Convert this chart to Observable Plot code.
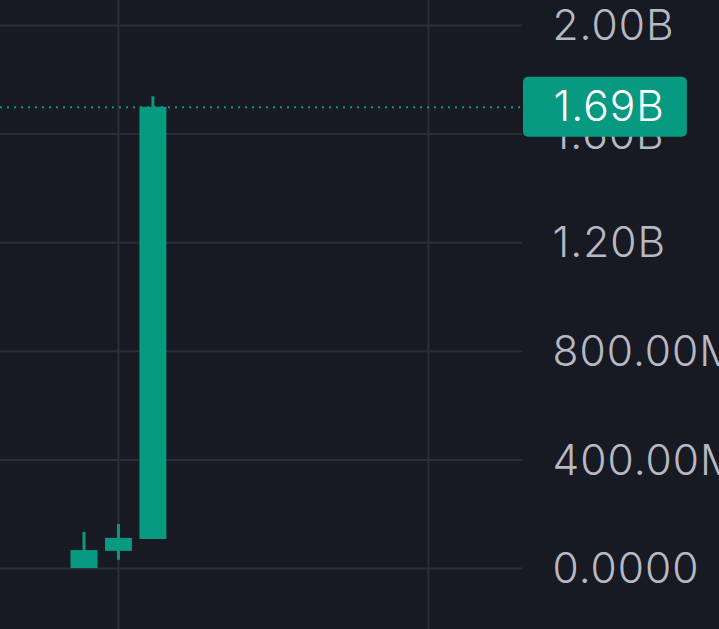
<!DOCTYPE html>
<html>
<head>
<meta charset="utf-8">
<script src="https://cdn.jsdelivr.net/npm/d3@7"></script>
<script src="https://cdn.jsdelivr.net/npm/@observablehq/plot@0.6"></script>
<style>
  html, body { margin: 0; padding: 0; background: #181a23; overflow: hidden; }
  #chart svg { display: block; overflow: hidden; }
  #chart text { letter-spacing: 1px; }
</style>
</head>
<body>
<div id="chart"></div>
<script>
// Candle data (index, open, high, low, close)
const idx   = [0, 1, 2];
const open  = [0, 63e6, 107e6];
const high  = [133e6, 162e6, 1.738e9];
const low   = [0, 30e6, 107e6];
const close = [66e6, 111e6, 1.699e9];

// Axis ticks
const yTicks = [0, 400e6, 800e6, 1.2e9, 1.6e9, 2.0e9];
const yTickLabels = ["0.0000", "400.00M", "800.00M", "1.20B", "1.60B", "2.00B"];
const xGrid = [1, 10];
const lastLabel = "1.69B";

const candles = idx.map((i, k) => ({i, open: open[k], high: high[k], low: low[k], close: close[k]}));
const ticks = yTicks.map((v, k) => ({v, label: yTickLabels[k]}));
const last = candles[candles.length - 1];

const green = "#089981";
const grid = "#2a2d38";
const fontFamily = "Inter, 'Noto Sans', sans-serif";
const fs = 42.5;

const plot = Plot.plot({
  width: 719,
  height: 629,
  marginLeft: 0,
  marginRight: 197,
  marginTop: 0,
  marginBottom: 0,
  style: {background: "#181a23", fontFamily},
  x: {type: "linear", domain: [0, 10], range: [83.5, 428], axis: null},
  y: {domain: [0, 2e9], range: [568, 25], axis: null},
  marks: [
    Plot.ruleY(ticks, {y: "v", stroke: grid, strokeWidth: 2}),
    Plot.ruleX(xGrid, {stroke: grid, strokeWidth: 2}),
    Plot.ruleY([last.close], {stroke: green, strokeWidth: 2, strokeDasharray: "2,5"}),
    Plot.ruleX(candles, {x: "i", y1: "low", y2: "high", stroke: green, strokeWidth: 3}),
    Plot.ruleX(candles, {x: "i", y1: "open", y2: "close", stroke: green, strokeWidth: 27}),
    Plot.text(ticks, {y: "v", text: "label", frameAnchor: "right", dx: 30, dy: 1, textAnchor: "start",
      fill: "#b6b9c2", fontSize: fs, fontWeight: 300}),
    Plot.text([last], {y: "close", text: () => lastLabel, frameAnchor: "right", dx: 31, textAnchor: "start",
      fill: "#ffffff", fontSize: fs, fontWeight: 300})
  ]
});

document.getElementById("chart").appendChild(plot);

// badge behind the last-price label, sized from the text's own box
const lastText = Array.from(plot.querySelectorAll("text")).find(t => t.textContent.trim() === lastLabel);
if (lastText) {
  const svgBox = plot.getBoundingClientRect();
  const tb = lastText.getBoundingClientRect();
  const right = tb.right - svgBox.left;
  const y = plot.scale("y").apply(last.close);
  const x0 = 719 - 197 + 1;
  const rect = document.createElementNS("http://www.w3.org/2000/svg", "rect");
  rect.setAttribute("x", x0);
  rect.setAttribute("y", y - 30);
  rect.setAttribute("width", Math.max(0, right + 22 - x0));
  rect.setAttribute("height", 60);
  rect.setAttribute("rx", 5);
  rect.setAttribute("fill", green);
  const g = lastText.closest("g[aria-label]") || lastText.parentNode;
  g.parentNode.insertBefore(rect, g);
}
</script>
</body>
</html>
